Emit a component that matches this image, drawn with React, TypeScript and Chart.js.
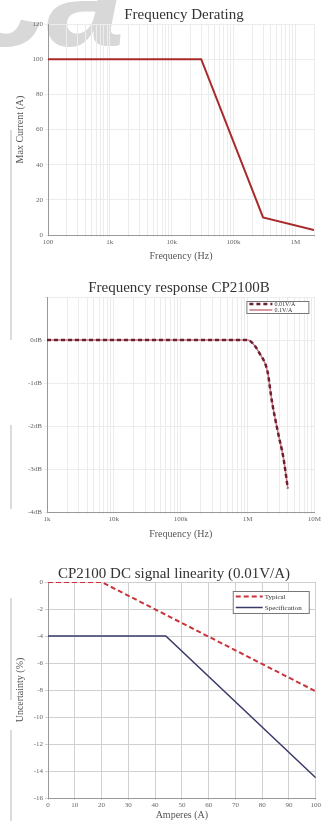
import React, { useEffect, useRef } from 'react';
import { Chart, registerables } from 'chart.js';

Chart.register(...registerables);

// ---------- Chart 1: Frequency Derating ----------
const derateFreq = [100, 30000, 300000, 2000000];
const derateCurrent = [100, 100, 10, 2.8];
const derateXTickValues = [100, 1000, 10000, 100000, 1000000];
const derateXTickLabels = ['100', '1k', '10k', '100k', '1M'];
const derateYTicks = [0, 20, 40, 60, 80, 100, 120];

// ---------- Chart 2: Frequency response CP2100B ----------
const respFreq = [1000, 10000, 100000, 1000000, 1200000, 1500000, 2000000, 2300000, 2900000, 3450000, 4000000];
const resp001 = [0, 0, 0, 0, -0.08, -0.3, -0.75, -1.4, -2.2, -2.75, -3.45];
const resp01 = [0, 0, 0, 0, -0.08, -0.3, -0.75, -1.4, -2.2, -2.75, -3.45];
const respXTickValues = [1000, 10000, 100000, 1000000, 10000000];
const respXTickLabels = ['1k', '10k', '100k', '1M', '10M'];
const respYTickValues = [1, 0, -1, -2, -3, -4];
const respYTickLabels = ['', '0dB', '-1dB', '-2dB', '-3dB', '-4dB'];

// ---------- Chart 3: DC signal linearity ----------
const typicalAmps = [0, 20, 100];
const typicalErr = [0, 0, -8.1];
const specAmps = [0, 44, 100];
const specErr = [-4, -4, -14.5];
const linXTicks = [0, 10, 20, 30, 40, 50, 60, 70, 80, 90, 100];
const linYTicks = [0, -2, -4, -6, -8, -10, -12, -14, -16];

const SERIF = '"Liberation Serif", "DejaVu Serif", serif';

function logGridTicks(min: number, max: number) {
  const out: number[] = [];
  for (let e = Math.floor(Math.log10(min)); e <= Math.ceil(Math.log10(max)); e++) {
    for (let s = 1; s < 10; s++) {
      const v = s * Math.pow(10, e);
      if (v >= min * 0.999 && v <= max * 1.001) out.push(v);
    }
  }
  return out;
}

function labelFor(v: number, vals: number[], labels: string[]) {
  for (let i = 0; i < vals.length; i++) {
    const tv = vals[i];
    if (Math.abs(v - tv) <= Math.abs(tv) * 1e-6 + 1e-9) return labels[i];
  }
  return '';
}

const boxLegend = {
  id: 'boxLegend',
  afterDraw(chart: any, _args: any, opts: any) {
    if (!opts || !opts.width) return;
    const { ctx, chartArea } = chart;
    const x = chartArea.right - opts.right - opts.width;
    const y = chartArea.top + opts.top;
    const ds = chart.data.datasets;
    ctx.save();
    ctx.fillStyle = '#fff';
    ctx.fillRect(x, y, opts.width, opts.height);
    ctx.strokeStyle = '#777';
    ctx.lineWidth = 1;
    ctx.strokeRect(x + 0.5, y + 0.5, opts.width, opts.height);
    const rowH = opts.height / ds.length;
    ds.forEach((d: any, i: number) => {
      const cy = y + rowH * (i + 0.5);
      ctx.strokeStyle = d.borderColor;
      ctx.lineWidth = d.borderWidth;
      ctx.setLineDash(d.borderDash || []);
      ctx.beginPath();
      ctx.moveTo(x + 3, cy);
      ctx.lineTo(x + 3 + opts.lineLen, cy);
      ctx.stroke();
      ctx.setLineDash([]);
      ctx.fillStyle = '#333';
      ctx.font = `${opts.fontSize}px ${SERIF}`;
      ctx.textBaseline = 'middle';
      ctx.textAlign = 'left';
      ctx.fillText(d.label, x + 5 + opts.lineLen, cy + 0.5);
    });
    ctx.restore();
  },
};

function ChartCanvas({ top, height, makeConfig }: { top: number; height: number; makeConfig: () => any }) {
  const ref = useRef<HTMLCanvasElement | null>(null);
  useEffect(() => {
    if (!ref.current) return;
    const chart = new Chart(ref.current, makeConfig());
    return () => chart.destroy();
  }, []);
  return (
    <canvas
      ref={ref}
      width={322}
      height={height}
      style={{ position: 'absolute', left: 0, top, width: 322, height, zIndex: 1 }}
    />
  );
}

const tickFont = { family: SERIF, size: 7 };
const axisTitleFont = { family: SERIF, size: 10 };

function deratingConfig() {
  return {
    type: 'line',
    data: {
      datasets: [
        {
          label: 'Max Current',
          data: derateFreq.map((f, i) => ({ x: f, y: derateCurrent[i] })),
          borderColor: '#a82a2a',
          borderWidth: 2,
          pointRadius: 0,
          fill: false,
          tension: 0,
        },
      ],
    },
    options: {
      responsive: false,
      animation: false,
      layout: { padding: { left: 14, right: 8, top: 24, bottom: 0 } },
      plugins: { legend: { display: false }, tooltip: { enabled: false }, title: { display: false } },
      scales: {
        x: {
          type: 'logarithmic',
          min: 100,
          max: 2000000,
          afterFit: (s: any) => { s.height = 27; },
          afterBuildTicks: (s: any) => { s.ticks = logGridTicks(100, 2000000).map((v) => ({ value: v })); },
          ticks: {
            autoSkip: false,
            maxRotation: 0,
            font: tickFont,
            color: '#666',
            padding: 1,
            callback: (v: any) => labelFor(Number(v), derateXTickValues, derateXTickLabels),
          },
          grid: { color: '#ececec', tickLength: 2 },
          border: { display: true, color: '#999', width: 1 },
          title: { display: true, text: 'Frequency (Hz)', font: axisTitleFont, color: '#555', padding: 0 },
        },
        y: {
          min: 0,
          max: 120,
          afterFit: (s: any) => { s.width = 34; },
          afterBuildTicks: (s: any) => { s.ticks = derateYTicks.map((v) => ({ value: v })); },
          ticks: { font: tickFont, color: '#666', padding: 2 },
          grid: { color: '#ececec', tickLength: 3 },
          border: { display: true, color: '#999', width: 1 },
          title: { display: true, text: 'Max Current (A)', font: axisTitleFont, color: '#555', padding: 0 },
        },
      },
    },
  };
}

function responseConfig() {
  return {
    type: 'line',
    data: {
      datasets: [
        {
          label: '0.01V/A',
          data: respFreq.map((f, i) => ({ x: f, y: resp001[i] })),
          borderColor: '#6e2030',
          borderWidth: 2.5,
          borderDash: [4, 3],
          pointRadius: 0,
          fill: false,
          cubicInterpolationMode: 'monotone',
          order: 0,
        },
        {
          label: '0.1V/A',
          data: respFreq.map((f, i) => ({ x: f, y: resp01[i] })),
          borderColor: '#c87884',
          borderWidth: 1.5,
          pointRadius: 0,
          fill: false,
          cubicInterpolationMode: 'monotone',
          order: 1,
        },
      ],
    },
    options: {
      responsive: false,
      animation: false,
      layout: { padding: { left: 14, right: 4, top: 27, bottom: 0 } },
      plugins: {
        legend: { display: false },
        tooltip: { enabled: false },
        boxLegend: { width: 62, height: 12, top: 4, right: 6, lineLen: 23, fontSize: 6 },
      },
      scales: {
        x: {
          type: 'logarithmic',
          min: 1000,
          max: 10000000,
          afterFit: (s: any) => { s.height = 28; },
          afterBuildTicks: (s: any) => { s.ticks = logGridTicks(1000, 10000000).map((v) => ({ value: v })); },
          ticks: {
            autoSkip: false,
            maxRotation: 0,
            font: tickFont,
            color: '#666',
            padding: 1,
            callback: (v: any) => labelFor(Number(v), respXTickValues, respXTickLabels),
          },
          grid: { color: '#ececec', tickLength: 2 },
          border: { display: true, color: '#999', width: 1 },
          title: { display: true, text: 'Frequency (Hz)', font: axisTitleFont, color: '#555', padding: 0 },
        },
        y: {
          min: -4,
          max: 1,
          afterFit: (s: any) => { s.width = 33; },
          afterBuildTicks: (s: any) => { s.ticks = respYTickValues.map((v) => ({ value: v })); },
          ticks: {
            font: tickFont,
            color: '#666',
            padding: 2,
            callback: (v: any) => labelFor(Number(v), respYTickValues, respYTickLabels),
          },
          grid: { color: '#ececec', tickLength: 3 },
          border: { display: true, color: '#999', width: 1 },
        },
      },
    },
    plugins: [boxLegend],
  };
}

function linearityConfig() {
  return {
    type: 'line',
    data: {
      datasets: [
        {
          label: 'Typical',
          data: typicalAmps.map((a, i) => ({ x: a, y: typicalErr[i] })),
          borderColor: '#c8343a',
          borderWidth: 2,
          borderDash: [5, 3],
          pointRadius: 0,
          fill: false,
          tension: 0,
        },
        {
          label: 'Specification',
          data: specAmps.map((a, i) => ({ x: a, y: specErr[i] })),
          borderColor: '#3a3a6a',
          borderWidth: 1.5,
          pointRadius: 0,
          fill: false,
          tension: 0,
        },
      ],
    },
    options: {
      responsive: false,
      animation: false,
      layout: { padding: { left: 14, right: 4, top: 22, bottom: 0 } },
      plugins: {
        legend: { display: false },
        tooltip: { enabled: false },
        boxLegend: { width: 76, height: 22, top: 9, right: 7, lineLen: 27, fontSize: 7 },
      },
      scales: {
        x: {
          type: 'linear',
          min: 0,
          max: 100,
          afterFit: (s: any) => { s.height = 23; },
          afterBuildTicks: (s: any) => { s.ticks = linXTicks.map((v) => ({ value: v })); },
          ticks: { autoSkip: false, maxRotation: 0, font: tickFont, color: '#666', padding: 1 },
          grid: { color: '#d0d0d0', tickLength: 2 },
          border: { display: true, color: '#999', width: 1 },
          title: { display: true, text: 'Amperes (A)', font: axisTitleFont, color: '#555', padding: 0 },
        },
        y: {
          min: -16,
          max: 0,
          afterFit: (s: any) => { s.width = 34; },
          afterBuildTicks: (s: any) => { s.ticks = linYTicks.map((v) => ({ value: v })); },
          ticks: { font: tickFont, color: '#666', padding: 2 },
          grid: { color: '#d0d0d0', tickLength: 3 },
          border: { display: true, color: '#999', width: 1 },
          title: { display: true, text: 'Uncertainty (%)', font: axisTitleFont, color: '#555', padding: 0 },
        },
      },
    },
    plugins: [boxLegend],
  };
}

const titleStyle = (top: number, center: number): React.CSSProperties => ({
  position: 'absolute',
  top,
  left: center - 160,
  width: 320,
  textAlign: 'center',
  fontFamily: SERIF,
  fontSize: 15,
  lineHeight: '17px',
  color: '#333',
  whiteSpace: 'nowrap',
  zIndex: 2,
});

const sideLine = (top: number, height: number): React.CSSProperties => ({
  position: 'absolute',
  left: 10,
  top,
  width: 2,
  height,
  background: '#dcdcdc',
});

export default function App() {
  return (
    <div
      style={{
        position: 'absolute',
        left: 0,
        top: 0,
        width: 322,
        height: 821,
        background: '#fff',
        overflow: 'hidden',
      }}
    >
      <div
        style={{
          position: 'absolute',
          left: -31,
          top: -72,
          fontFamily: '"Liberation Sans", sans-serif',
          fontWeight: 'bold',
          fontStyle: 'italic',
          fontSize: 140,
          color: '#d8d8d8',
          lineHeight: '140px',
          zIndex: 0,
        }}
      >
        ca
      </div>
      <div style={sideLine(130, 210)} />
      <div style={sideLine(425, 84)} />
      <div style={sideLine(598, 102)} />
      <div style={sideLine(730, 70)} />
      <div style={sideLine(778, 43)} />
      <ChartCanvas top={0} height={262} makeConfig={deratingConfig} />
      <div style={titleStyle(6, 184)}>Frequency Derating</div>
      <ChartCanvas top={270} height={270} makeConfig={responseConfig} />
      <div style={titleStyle(279, 179)}>Frequency response CP2100B</div>
      <ChartCanvas top={560} height={261} makeConfig={linearityConfig} />
      <div style={titleStyle(565, 174)}>CP2100 DC signal linearity (0.01V/A)</div>
    </div>
  );
}
